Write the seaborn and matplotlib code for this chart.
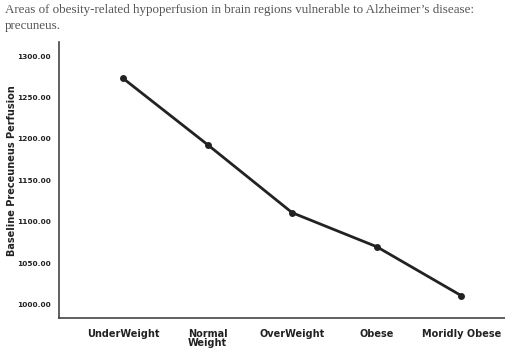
import matplotlib
matplotlib.use("Agg")
import matplotlib.pyplot as plt
import seaborn as sns
import pandas as pd

categories = ["UnderWeight", "Normal\nWeight", "OverWeight", "Obese", "Moridly Obese"]
perfusion = [1273, 1193, 1111, 1070, 1011]
yticks = [1000, 1050, 1100, 1150, 1200, 1250, 1300]

df = pd.DataFrame({"pos": range(len(categories)), "perfusion": perfusion})

sns.set_style("white")
plt.rcParams["font.family"] = ["DejaVu Sans"]

fig = plt.figure(figsize=(5.06, 3.51), dpi=100)
ax = fig.add_axes([59 / 506, 1 - 318 / 351, 1 - 59 / 506, 276 / 351])

sns.lineplot(data=df, x="pos", y="perfusion", ax=ax, color="#222222",
             linewidth=2.0, marker="o", markersize=5, markeredgewidth=0)

ax.set_xlim(-0.76, 4.53)
ax.set_ylim(984, 1317)
ax.set_xticks(range(len(categories)))
ax.set_xticklabels(categories, fontsize=7, fontweight="bold", linespacing=0.8,
                   va="top")
ax.set_yticks(yticks)
ax.set_yticklabels([f"{v:.2f}" for v in yticks], fontsize=5.3, fontweight="bold")
ax.tick_params(axis="both", length=0, pad=6, colors="#222222")
ax.tick_params(axis="x", pad=8)
ax.set_xlabel("")
ax.set_ylabel("Baseline Preceuneus Perfusion", fontsize=7, fontweight="bold",
              color="#222222")
ax.yaxis.set_label_coords(-0.095, 0.535)
sns.despine(ax=ax)
for s in ["left", "bottom"]:
    ax.spines[s].set_color("#444444")
    ax.spines[s].set_linewidth(1.2)

fig.text(5 / 506, 1 - 4 / 351,
         "Areas of obesity-related hypoperfusion in brain regions vulnerable to Alzheimer\u2019s disease:\nprecuneus.",
         ha="left", va="top", fontsize=9.4, family="Liberation Serif",
         color="#555555", linespacing=1.4)

fig.savefig("out.png", dpi=100)
